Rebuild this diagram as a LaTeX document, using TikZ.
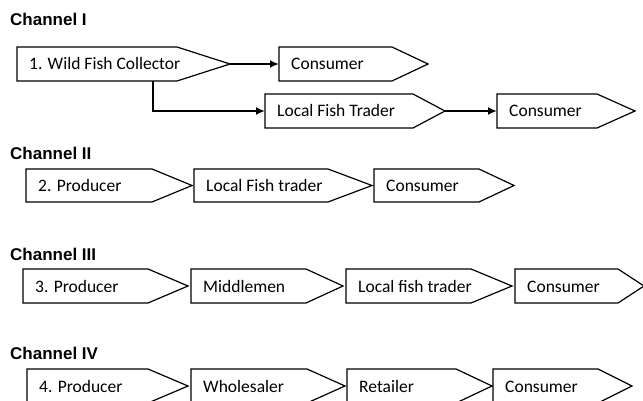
\documentclass[tikz,border=0pt]{standalone}
\usepackage{fontspec}
\setmainfont{Carlito}
\newfontfamily\titlefont{Liberation Sans}
\usetikzlibrary{arrows.meta}
\tikzset{
  box/.style={draw=black, line width=1.2pt, fill=white, line join=miter},
  lbl/.style={font=\fontsize{17.5}{20}\selectfont, inner xsep=12pt, inner ysep=0pt,
              text height=12pt, text depth=0pt, anchor=west},
  ttl/.style={font=\titlefont\bfseries\fontsize{17}{20}\selectfont, inner sep=0pt, anchor=base west},
  arr/.style={-{Latex[length=9pt,width=8pt]}, line width=2.5pt},
}
% #1 name, #2 left, #3 rect right, #4 tip, #5 top, #6 bottom, #7 text
\newcommand\chev[7]{%
  \draw[box] (#2,#5) -- (#3,#5) -- (#4,{(#5+#6)/2}) -- (#3,#6) -- (#2,#6) -- cycle;
  \node[lbl] (#1) at (#2,{(#5+#6)/2}) {#7};
  \coordinate (#1-tip) at (#4,{(#5+#6)/2});
}
\begin{document}
\begin{tikzpicture}[x=1pt,y=-1pt]
  \useasboundingbox (0,0) rectangle (643,401);
  \clip (0,0) rectangle (643,401);
  % titles
  \node[ttl] (t1) at (10,26) {Channel I};
  \node[ttl] (t2) at (10,160) {Channel II};
  \node[ttl] (t3) at (10,260) {Channel III};
  \node[ttl] (t4) at (10,359) {Channel IV};
  % Channel I
  \chev{wfc}{17}{177}{230}{47}{81}{1. Wild Fish Collector}
  \chev{c1a}{279}{392}{428}{47}{81}{Consumer}
  \chev{ltr}{265}{413}{445}{94}{128}{Local Fish Trader}
  \chev{c1b}{497}{597}{635}{94}{128}{Consumer}
  \coordinate (elb) at (153,81);
  \draw[arr] (wfc-tip) -- (c1a.west);
  \draw[arr] (elb) |- (ltr.west);
  \draw[arr] (ltr-tip) -- (c1b.west);
  % Channel II
  \chev{p2}{26}{152}{192}{169}{202}{2. Producer}
  \chev{l2}{194}{328}{372}{169}{202}{Local Fish trader}
  \chev{c2}{374}{479}{514}{169}{202}{Consumer}
  % Channel III
  \chev{p3}{23}{148}{188}{269}{303}{3. Producer}
  \chev{m3}{191}{306}{343}{269}{303}{Middlemen}
  \chev{l3}{346}{471}{512}{269}{303}{Local fish trader}
  \chev{c3}{515}{618}{644}{269}{303}{Consumer}
  % Channel IV
  \chev{p4}{27}{148}{188}{369}{403}{4. Producer}
  \chev{w4}{191}{307}{345}{369}{403}{Wholesaler}
  \chev{r4}{347}{456}{492}{369}{403}{Retailer}
  \chev{c4}{493}{598}{632}{369}{403}{Consumer}
\end{tikzpicture}
\end{document}
